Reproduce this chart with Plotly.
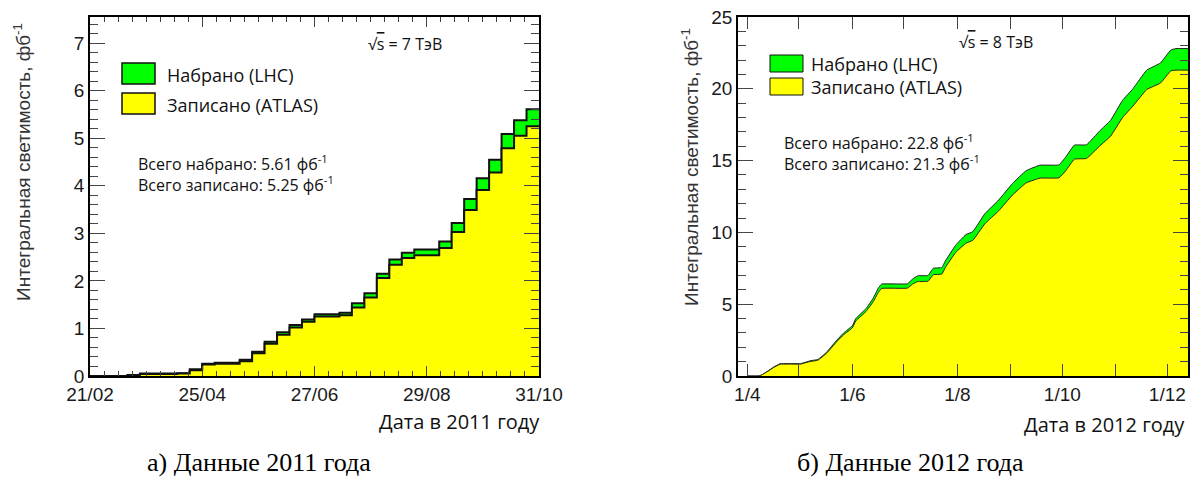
import plotly.graph_objects as go
import pandas as pd

# ---------------- 2011 data (weekly bins, cumulative, fb^-1) ----------------
week_edges_2011 = pd.date_range("2011-02-21", periods=37, freq="7D")
delivered_2011 = [0, 0, 0, 0.02, 0.05, 0.05, 0.05, 0.06, 0.14, 0.26, 0.28, 0.28,
                  0.34, 0.51, 0.72, 0.92, 1.07, 1.19, 1.30, 1.30, 1.33, 1.53, 1.74, 2.15,
                  2.45, 2.59, 2.66, 2.66, 2.83, 3.22, 3.72, 4.16, 4.55, 5.09, 5.38, 5.61]
recorded_2011 = [0, 0, 0, 0.01, 0.04, 0.04, 0.04, 0.05, 0.12, 0.24, 0.26, 0.26,
                 0.31, 0.48, 0.68, 0.87, 1.02, 1.14, 1.25, 1.25, 1.28, 1.44, 1.65, 2.06,
                 2.34, 2.48, 2.54, 2.54, 2.69, 3.03, 3.49, 3.91, 4.28, 4.79, 5.05, 5.25]

# ---------------- 2012 data (cumulative, fb^-1) ----------------
dates_2012 = ["2012-04-01", "2012-04-07", "2012-04-09", "2012-04-13", "2012-04-16", "2012-04-20",
              "2012-05-02", "2012-05-05", "2012-05-08", "2012-05-12", "2012-05-17", "2012-05-23",
              "2012-05-27", "2012-06-01", "2012-06-03", "2012-06-09", "2012-06-13", "2012-06-16",
              "2012-06-18", "2012-07-03", "2012-07-06", "2012-07-09", "2012-07-15", "2012-07-18",
              "2012-07-23", "2012-07-25", "2012-07-31", "2012-08-06", "2012-08-10", "2012-08-17",
              "2012-08-25", "2012-09-02", "2012-09-10", "2012-09-18", "2012-09-29", "2012-10-03",
              "2012-10-08", "2012-10-15", "2012-10-23", "2012-10-29", "2012-11-05", "2012-11-11",
              "2012-11-19", "2012-11-27", "2012-12-03", "2012-12-06", "2012-12-13"]
delivered_2012 = [0, 0, 0.05, 0.35, 0.6, 0.85,
                  0.86, 0.97, 1.07, 1.15, 1.65, 2.5,
                  3.0, 3.5, 4.0, 4.7, 5.4, 6.1,
                  6.4, 6.42, 6.75, 6.98, 7.0, 7.5,
                  7.55, 8.0, 9.1, 9.85, 10.05, 11.3,
                  12.25, 13.4, 14.3, 14.68, 14.7, 15.25,
                  16.08, 16.1, 17.1, 17.8, 19.2, 20.0,
                  21.3, 21.8, 22.7, 22.8, 22.8]
recorded_2012 = [0, 0, 0.05, 0.33, 0.57, 0.82,
                 0.83, 0.93, 1.02, 1.10, 1.58, 2.40,
                 2.88, 3.35, 3.83, 4.50, 5.15, 5.80,
                 6.10, 6.12, 6.40, 6.58, 6.60, 7.05,
                 7.10, 7.55, 8.6, 9.25, 9.45, 10.6,
                 11.5, 12.6, 13.45, 13.78, 13.8, 14.3,
                 15.1, 15.15, 16.05, 16.7, 18.0, 18.8,
                 19.95, 20.4, 21.25, 21.3, 21.3]

legend_labels = ["Набрано (LHC)", "Записано (ATLAS)"]
energy_labels = ["√<span style='text-decoration:overline'>s</span> = 7 ТэВ",
                 "√<span style='text-decoration:overline'>s</span> = 8 ТэВ"]
totals_2011 = ["Всего набрано: 5.61 фб<sup>-1</sup>", "Всего записано: 5.25 фб<sup>-1</sup>"]
totals_2012 = ["Всего набрано: 22.8 фб<sup>-1</sup>", "Всего записано: 21.3 фб<sup>-1</sup>"]
y_title = "Интегральная светимость, фб<sup>-1</sup>"
x_titles = ["Дата в 2011 году", "Дата в 2012 году"]
captions = ["а) Данные 2011 года", "б) Данные 2012 года"]

GREEN = "#00ff00"
YELLOW = "#ffff00"
W, H = 1196, 489


def px(x):
    return x / W


def py(y):
    return 1 - y / H


fig = go.Figure()

# 2011 step histograms
fig.add_trace(go.Scatter(x=week_edges_2011, y=delivered_2011 + [delivered_2011[-1]],
                         mode="lines", line=dict(shape="hv", color="#111", width=2),
                         fill="tozeroy", fillcolor=GREEN, xaxis="x", yaxis="y"))
fig.add_trace(go.Scatter(x=week_edges_2011, y=recorded_2011 + [recorded_2011[-1]],
                         mode="lines", line=dict(shape="hv", color="#111", width=2),
                         fill="tozeroy", fillcolor=YELLOW, xaxis="x", yaxis="y"))

# 2012 curves
fig.add_trace(go.Scatter(x=dates_2012, y=delivered_2012, mode="lines",
                         line=dict(color="#222", width=1, shape="spline", smoothing=0.3),
                         fill="tozeroy", fillcolor=GREEN, xaxis="x2", yaxis="y2"))
fig.add_trace(go.Scatter(x=dates_2012, y=recorded_2012, mode="lines",
                         line=dict(color="#222", width=1, shape="spline", smoothing=0.3),
                         fill="tozeroy", fillcolor=YELLOW, xaxis="x2", yaxis="y2"))

tickfont = dict(family="Liberation Sans, Arial, sans-serif", size=19, color="#1a1a1a")
ydom = [py(376), py(17)]
common = dict(showline=True, linecolor="#000", linewidth=1.5, mirror="allticks",
              ticks="inside", tickcolor="#444", tickwidth=1, showgrid=False,
              zeroline=False, tickfont=tickfont, fixedrange=True, automargin=False)

fig.update_layout(
    width=W, height=H, margin=dict(l=0, r=0, t=0, b=0, pad=0, autoexpand=False),
    paper_bgcolor="white", plot_bgcolor="white", showlegend=False, hovermode=False,
    xaxis=dict(domain=[px(90), px(539)], anchor="y", type="date",
               range=["2011-02-21", "2011-10-31"], tick0="2011-02-21",
               dtick=63 * 86400000, tickformat="%d/%m", ticklen=10,
               minor=dict(tick0="2011-02-21", dtick=7.875 * 86400000, ticks="inside",
                          ticklen=5, tickcolor="#444"),
               **common),
    yaxis=dict(domain=ydom, anchor="x", range=[0, 7.55], dtick=1, ticklen=15,
               minor=dict(dtick=0.2, ticks="inside", ticklen=8, tickcolor="#444"),
               **common),
    xaxis2=dict(domain=[px(738), px(1188)], anchor="y2", type="date",
                range=["2012-03-26 14:00", "2012-12-13"], tick0="2012-04-01",
                dtick="M2", tickformat="%-d/%-m", ticklen=12,
                minor=dict(tick0="2012-04-01", dtick="M1", ticks="inside",
                           ticklen=12, tickcolor="#444"),
                **common),
    yaxis2=dict(domain=ydom, anchor="x2", range=[0, 25], dtick=5, ticklen=15,
                minor=dict(dtick=1, ticks="inside", ticklen=8, tickcolor="#444"),
                **common),
)

shapes = []
# legend boxes
for (x0, x1, ys, lw) in [(122, 155, [(63, 84), (93, 114)], 1.5),
                         (770, 803, [(55, 72), (78, 95)], 1)]:
    for (y0, y1), col in zip(ys, [GREEN, YELLOW]):
        shapes.append(dict(type="rect", xref="paper", yref="paper",
                           x0=px(x0), x1=px(x1), y0=py(y1), y1=py(y0),
                           fillcolor=col, line=dict(color="#111", width=lw)))
fig.update_layout(shapes=shapes)

sans = "Open Sans, Noto Sans, sans-serif"
ann = []


def text(x, y, s, size, family=sans, xanchor="left", angle=0, color="#111"):
    ann.append(dict(xref="paper", yref="paper", x=px(x), y=py(y), text=s,
                    showarrow=False, xanchor=xanchor, yanchor="middle",
                    textangle=angle, font=dict(family=family, size=size, color=color)))


# left panel texts
text(165, 75, legend_labels[0], 18)
text(165, 105, legend_labels[1], 18)
text(366, 44, energy_labels[0], 16)
text(136, 163, totals_2011[0], 16)
text(136, 184, totals_2011[1], 16)
# right panel texts
text(809, 64, legend_labels[0], 18)
text(809, 87, legend_labels[1], 18)
text(957, 42, energy_labels[1], 16)
text(782, 142, totals_2012[0], 16)
text(782, 163, totals_2012[1], 16)
# axis titles
text(22, 162, y_title, 19, family="Liberation Sans, Arial, sans-serif",
     xanchor="center", angle=-90, color="#333")
text(690, 167, y_title, 19, family="Liberation Sans, Arial, sans-serif",
     xanchor="center", angle=-90, color="#333")
text(542, 421, x_titles[0], 20, xanchor="right")
text(1187, 424, x_titles[1], 20, xanchor="right")
# captions
text(259, 462, captions[0], 26, family="Liberation Serif, Times New Roman, serif",
     xanchor="center", color="#000")
text(910, 462, captions[1], 26, family="Liberation Serif, Times New Roman, serif",
     xanchor="center", color="#000")

fig.update_layout(annotations=ann)
fig.write_html("out.html")
